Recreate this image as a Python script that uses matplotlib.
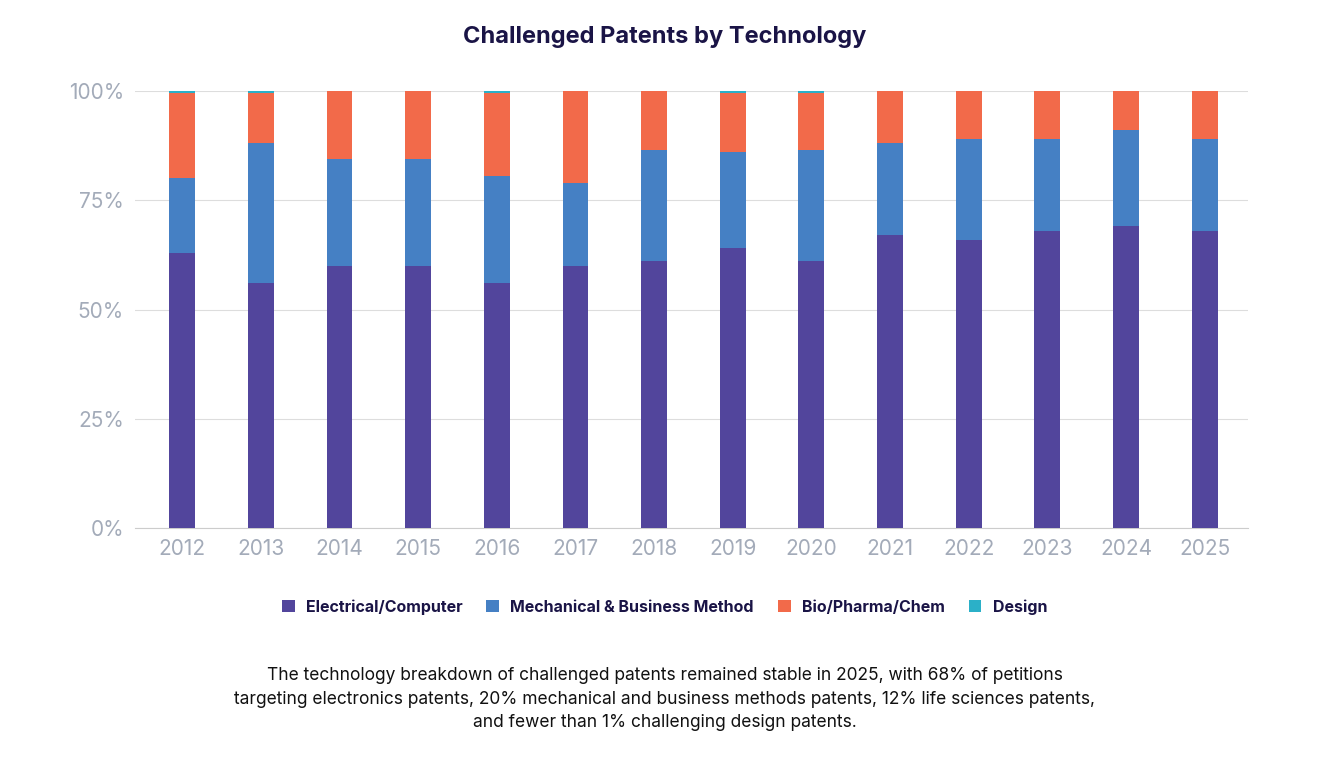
import matplotlib.pyplot as plt
import numpy as np

years = ['2012', '2013', '2014', '2015', '2016', '2017', '2018',
         '2019', '2020', '2021', '2022', '2023', '2024', '2025']
electrical = [63, 56, 60, 60, 56, 60, 61, 64, 61, 67, 66, 68, 69, 68]
mechanical = [17, 32, 24.5, 24.5, 24.5, 19, 25.5, 22, 25.5, 21, 23, 21, 22, 21]
bio = [19.5, 11.5, 15.5, 15.5, 19, 21, 13.5, 13.5, 13, 12, 11, 11, 9, 11]
design = [0.5, 0.5, 0, 0, 0.5, 0, 0, 0.5, 0.5, 0, 0, 0, 0, 0]

series = [('Electrical/Computer', electrical, '#52459c'),
          ('Mechanical & Business Method', mechanical, '#4580c4'),
          ('Bio/Pharma/Chem', bio, '#f26a4a'),
          ('Design', design, '#2bb0c8')]

plt.rcParams['font.family'] = ['Inter', 'DejaVu Sans']
fig = plt.figure(figsize=(13.29, 7.8), dpi=100)
ax = fig.add_axes([135 / 1329, 1 - 528 / 780, (1248 - 135) / 1329, (528 - 91) / 780])

x = np.arange(len(years))
bottom = np.zeros(len(years))
for name, vals, col in series:
    ax.bar(x, vals, 0.33, bottom=bottom, color=col, label=name, zorder=3)
    bottom += np.array(vals)

ax.set_ylim(0, 100)
ax.set_xlim(-0.6, len(years) - 0.45)
ax.set_yticks([0, 25, 50, 75, 100])
ax.set_yticklabels(['0%', '25%', '50%', '75%', '100%'])
ax.set_xticks(x)
ax.set_xticklabels(years)
ax.tick_params(colors='#a3abb9', labelsize=15, length=0, pad=8)
ax.grid(axis='y', color='#dddddd', linewidth=0.8, zorder=0)
for s in ['top', 'right', 'left']:
    ax.spines[s].set_visible(False)
ax.spines['bottom'].set_color('#cccccc')

fig.text(0.5, 1 - 37 / 780, 'Challenged Patents by Technology', ha='center', va='center',
         fontsize=17, fontweight='bold', color='#1a1446')

leg = fig.legend(loc='center', bbox_to_anchor=(0.5, 1 - 607 / 780), ncol=4, frameon=False,
                 handlelength=0.8, handleheight=0.8, columnspacing=1.5, handletextpad=0.7,
                 prop={'size': 11.5, 'weight': 'bold'})
for t in leg.get_texts():
    t.set_color('#1a1446')

fig.text(0.5, 1 - 699 / 780,
         'The technology breakdown of challenged patents remained stable in 2025, with 68% of petitions\n'
         'targeting electronics patents, 20% mechanical and business methods patents, 12% life sciences patents,\n'
         'and fewer than 1% challenging design patents.',
         ha='center', va='center', fontsize=12.5, color='#111111', linespacing=1.5)

fig.savefig('out.png', dpi=100)
